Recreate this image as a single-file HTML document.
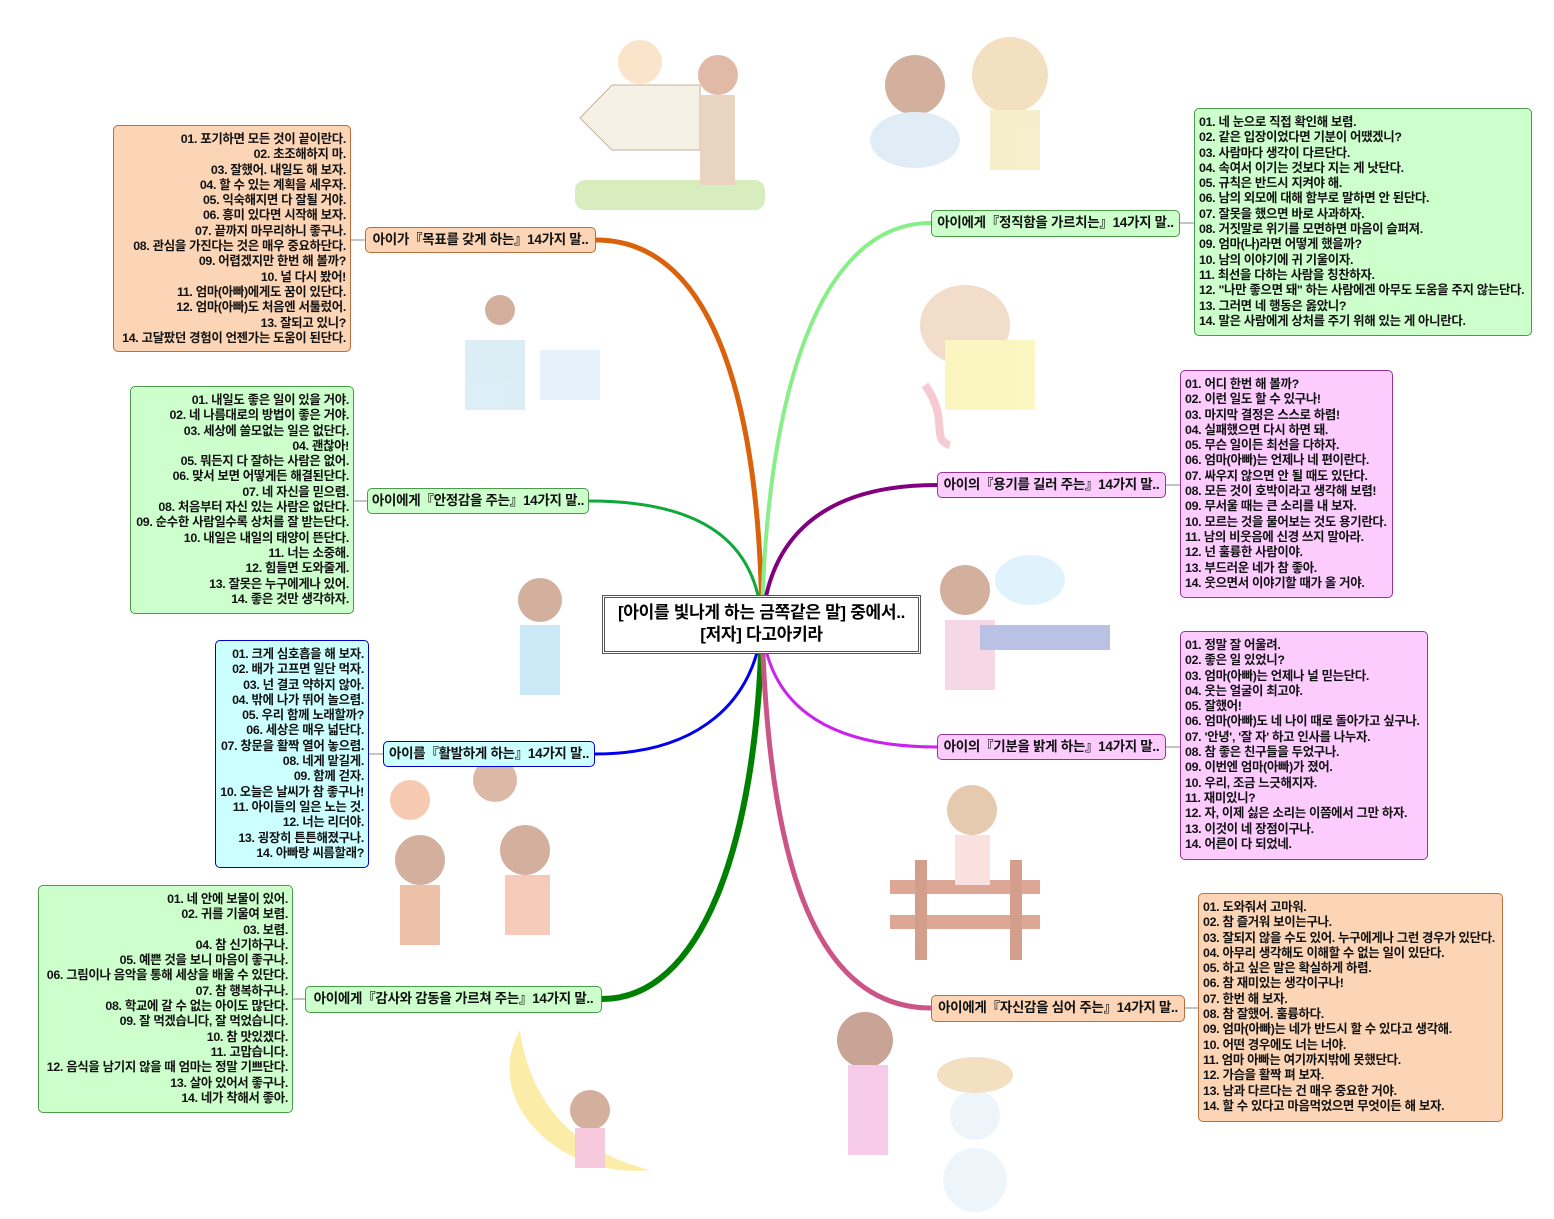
<!DOCTYPE html>
<html><head><meta charset="utf-8"><style>
body{margin:0;width:1554px;height:1219px;background:#fff;position:relative;overflow:hidden;font-family:"Liberation Sans","Noto Sans CJK KR","NanumGothic",sans-serif;}
.l{position:absolute;border:1px solid;border-radius:5px;font-size:12.4px;font-weight:bold;line-height:15.3px;padding:6px 4px 0 4px;box-sizing:border-box;white-space:nowrap;color:#111;letter-spacing:-0.3px}
.r{text-align:right}
.t{position:absolute;border:1px solid;border-radius:5px;font-size:13.5px;font-weight:bold;line-height:24px;text-align:center;box-sizing:border-box;white-space:nowrap;color:#111;letter-spacing:-0.3px}
.or{background:#fbd5b5;border-color:#b87040}
.gr{background:#ccffcc;border-color:#4a9a4a}
.bl{background:#ccffff;border-color:#0000cc}
.pk{background:#fcccff;border-color:#993399}
</style></head><body>
<svg width="1554" height="1219" style="position:absolute;left:0;top:0">
<g opacity="0.55">
<rect x="575" y="180" width="190" height="30" rx="10" fill="#b9e08a"/>
<polygon points="580,118 612,85 700,85 700,150 612,150" fill="#f0e6d0" stroke="#a07050"/>
<circle cx="640" cy="62" r="22" fill="#f8d0a0"/><circle cx="718" cy="75" r="20" fill="#c98060"/>
<rect x="700" y="95" width="35" height="90" fill="#d8b090"/>
<circle cx="915" cy="85" r="30" fill="#b07050"/><ellipse cx="915" cy="140" rx="45" ry="28" fill="#c8e0f0"/>
<circle cx="1010" cy="75" r="38" fill="#e8c890"/><rect x="990" y="110" width="50" height="60" fill="#f0e0a0"/>
<rect x="465" y="340" width="60" height="70" fill="#c0e0f0"/><rect x="540" y="350" width="60" height="50" fill="#d0e8f8"/>
<circle cx="500" cy="310" r="15" fill="#b07050"/>
<ellipse cx="965" cy="325" rx="45" ry="40" fill="#e8c0a0"/><rect x="945" y="340" width="90" height="70" fill="#f8f090"/>
<path d="M925,385 C950,420 930,440 950,445" stroke="#f0a0b0" stroke-width="8" fill="none"/>
<circle cx="540" cy="600" r="22" fill="#b07050"/><rect x="520" y="625" width="40" height="70" fill="#a0d8f0"/>
<circle cx="965" cy="590" r="25" fill="#b07050"/><rect x="945" y="620" width="50" height="70" fill="#f0b8d0"/>
<polygon points="980,625 1110,625 1110,650 980,650" fill="#8090d0"/><ellipse cx="1030" cy="580" rx="35" ry="25" fill="#c8e8f8"/>
<circle cx="410" cy="800" r="20" fill="#f0a070"/><circle cx="420" cy="860" r="25" fill="#b07050"/>
<rect x="400" y="885" width="40" height="60" fill="#e09060"/><circle cx="525" cy="850" r="25" fill="#b07050"/>
<rect x="505" y="875" width="45" height="60" fill="#f0a080"/><circle cx="495" cy="780" r="22" fill="#c08060"/>
<rect x="890" y="880" width="150" height="14" fill="#c06040"/><rect x="890" y="915" width="150" height="14" fill="#c06040"/>
<rect x="915" y="860" width="12" height="100" fill="#b05030"/><rect x="1010" y="860" width="12" height="100" fill="#b05030"/>
<circle cx="972" cy="810" r="25" fill="#d0a070"/><rect x="955" y="835" width="35" height="50" fill="#f8c8c8"/>
<path d="M520,1030 C480,1100 560,1180 650,1170 C570,1150 530,1100 520,1030Z" fill="#f8e060"/>
<circle cx="590" cy="1110" r="20" fill="#b07050"/><rect x="575" y="1128" width="30" height="40" fill="#f0a0c0"/>
<circle cx="865" cy="1040" r="28" fill="#9a5a40"/><rect x="848" y="1065" width="40" height="90" fill="#f0a0d8"/>
<circle cx="975" cy="1180" r="32" fill="#e0eef8"/><circle cx="975" cy="1115" r="25" fill="#e0eef8"/>
<ellipse cx="975" cy="1075" rx="38" ry="18" fill="#e8c890"/>
</g>
<g fill="none" stroke-linecap="round">
<path d="M596,240 C720,240 760,420 762,625" stroke="#d9620a" stroke-width="5"/>
<path d="M589,501 C700,501 758,540 762,625" stroke="#11a83a" stroke-width="3"/>
<path d="M595,754 C700,754 755,700 762,625" stroke="#0000ee" stroke-width="3"/>
<path d="M602,999 C700,999 757,850 762,625" stroke="#008000" stroke-width="6"/>
<path d="M931,223 C810,223 765,420 762,625" stroke="#88ee88" stroke-width="4"/>
<path d="M937,485 C820,485 768,540 762,625" stroke="#800080" stroke-width="4"/>
<path d="M937,747 C820,747 768,700 762,625" stroke="#cc22ee" stroke-width="3"/>
<path d="M931,1008 C810,1008 768,850 762,625" stroke="#cc5588" stroke-width="5"/>
<path d="M351,240 H365 M354,501 H367 M369,754 H383 M293,999 H305 M1180,223 H1194 M1166,485 H1180 M1166,747 H1180 M1185,1008 H1198" stroke="#888" stroke-width="1"/>
</g>
</svg>
<div style="position:absolute;left:602px;top:595px;width:319px;height:59px;border:3px double #555;background:#fff;box-sizing:border-box;text-align:center;font-size:17px;font-weight:bold;line-height:22px;padding-top:4px;white-space:nowrap;letter-spacing:-0.3px">[아이를 빛나게 하는 금쪽같은 말] 중에서..<br>[저자] 다고아키라</div>

<div class="l or r" style="left:113px;top:125px;width:238px;height:227px">01. 포기하면 모든 것이 끝이란다.<br>02. 초조해하지 마.<br>03. 잘했어. 내일도 해 보자.<br>04. 할 수 있는 계획을 세우자.<br>05. 익숙해지면 다 잘될 거야.<br>06. 흥미 있다면 시작해 보자.<br>07. 끝까지 마무리하니 좋구나.<br>08. 관심을 가진다는 것은 매우 중요하단다.<br>09. 어렵겠지만 한번 해 볼까?<br>10. 널 다시 봤어!<br>11. 엄마(아빠)에게도 꿈이 있단다.<br>12. 엄마(아빠)도 처음엔 서툴렀어.<br>13. 잘되고 있니?<br>14. 고달팠던 경험이 언젠가는 도움이 된단다.</div>
<div class="t or" style="left:365px;top:227px;width:231px;height:26px">아이가『목표를 갖게 하는』14가지 말..</div>

<div class="l gr r" style="left:130px;top:386px;width:224px;height:228px">01. 내일도 좋은 일이 있을 거야.<br>02. 네 나름대로의 방법이 좋은 거야.<br>03. 세상에 쓸모없는 일은 없단다.<br>04. 괜찮아!<br>05. 뭐든지 다 잘하는 사람은 없어.<br>06. 맞서 보면 어떻게든 해결된단다.<br>07. 네 자신을 믿으렴.<br>08. 처음부터 자신 있는 사람은 없단다.<br>09. 순수한 사람일수록 상처를 잘 받는단다.<br>10. 내일은 내일의 태양이 뜬단다.<br>11. 너는 소중해.<br>12. 힘들면 도와줄게.<br>13. 잘못은 누구에게나 있어.<br>14. 좋은 것만 생각하자.</div>
<div class="t gr" style="left:367px;top:488px;width:222px;height:26px">아이에게『안정감을 주는』14가지 말..</div>

<div class="l bl r" style="left:215px;top:640px;width:154px;height:228px">01. 크게 심호흡을 해 보자.<br>02. 배가 고프면 일단 먹자.<br>03. 넌 결코 약하지 않아.<br>04. 밖에 나가 뛰어 놀으렴.<br>05. 우리 함께 노래할까?<br>06. 세상은 매우 넓단다.<br>07. 창문을 활짝 열어 놓으렴.<br>08. 네게 맡길게.<br>09. 함께 걷자.<br>10. 오늘은 날씨가 참 좋구나!<br>11. 아이들의 일은 노는 것.<br>12. 너는 리더야.<br>13. 굉장히 튼튼해졌구나.<br>14. 아빠랑 씨름할래?</div>
<div class="t bl" style="left:383px;top:741px;width:212px;height:26px">아이를『활발하게 하는』14가지 말..</div>

<div class="l gr r" style="left:38px;top:885px;width:255px;height:228px">01. 네 안에 보물이 있어.<br>02. 귀를 기울여 보렴.<br>03. 보렴.<br>04. 참 신기하구나.<br>05. 예쁜 것을 보니 마음이 좋구나.<br>06. 그림이나 음악을 통해 세상을 배울 수 있단다.<br>07. 참 행복하구나.<br>08. 학교에 갈 수 없는 아이도 많단다.<br>09. 잘 먹겠습니다, 잘 먹었습니다.<br>10. 참 맛있겠다.<br>11. 고맙습니다.<br>12. 음식을 남기지 않을 때 엄마는 정말 기쁘단다.<br>13. 살아 있어서 좋구나.<br>14. 네가 착해서 좋아.</div>
<div class="t gr" style="left:305px;top:986px;width:297px;height:27px">아이에게『감사와 감동을 가르쳐 주는』14가지 말..</div>

<div class="t gr" style="left:931px;top:210px;width:249px;height:27px">아이에게『정직함을 가르치는』14가지 말..</div>
<div class="l gr" style="left:1194px;top:108px;width:338px;height:228px">01. 네 눈으로 직접 확인해 보렴.<br>02. 같은 입장이었다면 기분이 어땠겠니?<br>03. 사람마다 생각이 다르단다.<br>04. 속여서 이기는 것보다 지는 게 낫단다.<br>05. 규칙은 반드시 지켜야 해.<br>06. 남의 외모에 대해 함부로 말하면 안 된단다.<br>07. 잘못을 했으면 바로 사과하자.<br>08. 거짓말로 위기를 모면하면 마음이 슬퍼져.<br>09. 엄마(나)라면 어떻게 했을까?<br>10. 남의 이야기에 귀 기울이자.<br>11. 최선을 다하는 사람을 칭찬하자.<br>12. "나만 좋으면 돼" 하는 사람에겐 아무도 도움을 주지 않는단다.<br>13. 그러면 네 행동은 옳았니?<br>14. 말은 사람에게 상처를 주기 위해 있는 게 아니란다.</div>

<div class="t pk" style="left:937px;top:472px;width:229px;height:26px">아이의『용기를 길러 주는』14가지 말..</div>
<div class="l pk" style="left:1180px;top:370px;width:213px;height:228px">01. 어디 한번 해 볼까?<br>02. 이런 일도 할 수 있구나!<br>03. 마지막 결정은 스스로 하렴!<br>04. 실패했으면 다시 하면 돼.<br>05. 무슨 일이든 최선을 다하자.<br>06. 엄마(아빠)는 언제나 네 편이란다.<br>07. 싸우지 않으면 안 될 때도 있단다.<br>08. 모든 것이 호박이라고 생각해 보렴!<br>09. 무서울 때는 큰 소리를 내 보자.<br>10. 모르는 것을 물어보는 것도 용기란다.<br>11. 남의 비웃음에 신경 쓰지 말아라.<br>12. 넌 훌륭한 사람이야.<br>13. 부드러운 네가 참 좋아.<br>14. 웃으면서 이야기할 때가 올 거야.</div>

<div class="t pk" style="left:937px;top:734px;width:229px;height:26px">아이의『기분을 밝게 하는』14가지 말..</div>
<div class="l pk" style="left:1180px;top:631px;width:248px;height:229px">01. 정말 잘 어울려.<br>02. 좋은 일 있었니?<br>03. 엄마(아빠)는 언제나 널 믿는단다.<br>04. 웃는 얼굴이 최고야.<br>05. 잘했어!<br>06. 엄마(아빠)도 네 나이 때로 돌아가고 싶구나.<br>07. '안녕', '잘 자' 하고 인사를 나누자.<br>08. 참 좋은 친구들을 두었구나.<br>09. 이번엔 엄마(아빠)가 졌어.<br>10. 우리, 조금 느긋해지자.<br>11. 재미있니?<br>12. 자, 이제 싫은 소리는 이쯤에서 그만 하자.<br>13. 이것이 네 장점이구나.<br>14. 어른이 다 되었네.</div>

<div class="t or" style="left:931px;top:995px;width:254px;height:27px">아이에게『자신감을 심어 주는』14가지 말..</div>
<div class="l or" style="left:1198px;top:893px;width:305px;height:229px">01. 도와줘서 고마워.<br>02. 참 즐거워 보이는구나.<br>03. 잘되지 않을 수도 있어. 누구에게나 그런 경우가 있단다.<br>04. 아무리 생각해도 이해할 수 없는 일이 있단다.<br>05. 하고 싶은 말은 확실하게 하렴.<br>06. 참 재미있는 생각이구나!<br>07. 한번 해 보자.<br>08. 참 잘했어. 훌륭하다.<br>09. 엄마(아빠)는 네가 반드시 할 수 있다고 생각해.<br>10. 어떤 경우에도 너는 너야.<br>11. 엄마 아빠는 여기까지밖에 못했단다.<br>12. 가슴을 활짝 펴 보자.<br>13. 남과 다르다는 건 매우 중요한 거야.<br>14. 할 수 있다고 마음먹었으면 무엇이든 해 보자.</div>
</body></html>
